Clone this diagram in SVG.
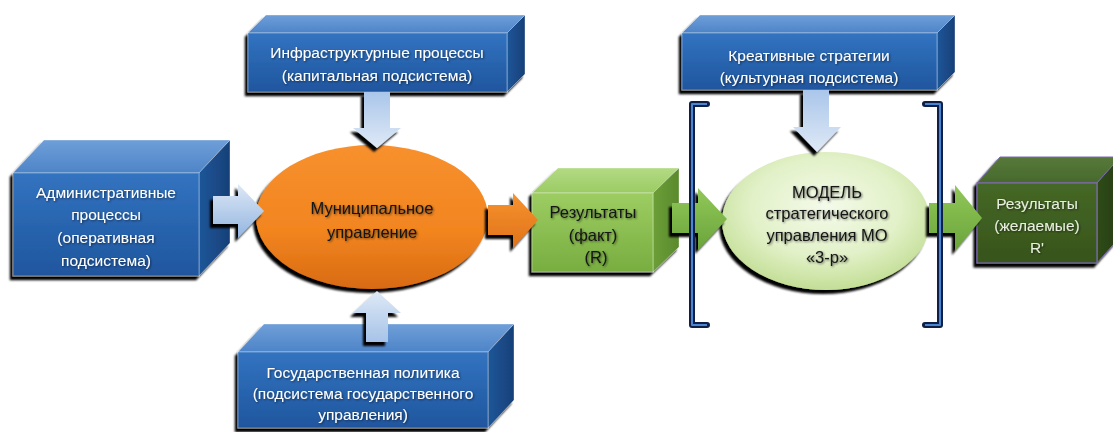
<svg xmlns="http://www.w3.org/2000/svg" width="1113" height="432" viewBox="0 0 1113 432">
<defs>
<linearGradient id="bF" x1="0" y1="0" x2="0" y2="1"><stop offset="0" stop-color="#3273c0"/><stop offset="1" stop-color="#1f569e"/></linearGradient>
<linearGradient id="bT" x1="0" y1="0" x2="0" y2="1"><stop offset="0" stop-color="#6f9fd8"/><stop offset="1" stop-color="#4d84c8"/></linearGradient>
<linearGradient id="bS" x1="0" y1="0" x2="1" y2="0"><stop offset="0" stop-color="#1f5699"/><stop offset="1" stop-color="#174078"/></linearGradient>
<linearGradient id="gF" x1="0" y1="0" x2="0" y2="1"><stop offset="0" stop-color="#9dcd62"/><stop offset="1" stop-color="#78ad40"/></linearGradient>
<linearGradient id="gT" x1="0" y1="0" x2="0" y2="1"><stop offset="0" stop-color="#b4da84"/><stop offset="1" stop-color="#9bcb63"/></linearGradient>
<linearGradient id="gS" x1="0" y1="0" x2="1" y2="0"><stop offset="0" stop-color="#6c9e38"/><stop offset="1" stop-color="#5a8a2c"/></linearGradient>
<linearGradient id="dF" x1="0" y1="0" x2="0" y2="1"><stop offset="0" stop-color="#456826"/><stop offset="1" stop-color="#37541c"/></linearGradient>
<linearGradient id="dT" x1="0" y1="0" x2="0" y2="1"><stop offset="0" stop-color="#56793a"/><stop offset="1" stop-color="#48692c"/></linearGradient>
<linearGradient id="dS" x1="0" y1="0" x2="1" y2="0"><stop offset="0" stop-color="#2f4a16"/><stop offset="1" stop-color="#263d11"/></linearGradient>
<linearGradient id="oE" x1="0" y1="0" x2="0" y2="1"><stop offset="0" stop-color="#f7902e"/><stop offset="0.6" stop-color="#f2851f"/><stop offset="1" stop-color="#d86a12"/></linearGradient>
<radialGradient id="mE" cx="0.5" cy="0.4" r="0.6"><stop offset="0" stop-color="#f4faea"/><stop offset="0.6" stop-color="#e2f1c8"/><stop offset="1" stop-color="#c3de96"/></radialGradient>
<linearGradient id="aH" x1="0" y1="0" x2="0" y2="1"><stop offset="0" stop-color="#dde8f6"/><stop offset="1" stop-color="#93b5e0"/></linearGradient>
<linearGradient id="aV" x1="0" y1="0" x2="0" y2="1"><stop offset="0" stop-color="#aac6ea"/><stop offset="1" stop-color="#dfe9f6"/></linearGradient>
<linearGradient id="aVu" x1="0" y1="0" x2="0" y2="1"><stop offset="0" stop-color="#dfe9f6"/><stop offset="1" stop-color="#a6c3e8"/></linearGradient>
<linearGradient id="aO" x1="0" y1="0" x2="0" y2="1"><stop offset="0" stop-color="#f7922e"/><stop offset="1" stop-color="#e0731a"/></linearGradient>
<linearGradient id="aG" x1="0" y1="0" x2="0" y2="1"><stop offset="0" stop-color="#92c85a"/><stop offset="1" stop-color="#6aa43a"/></linearGradient>
<filter id="sh" x="-20%" y="-20%" width="140%" height="140%"><feDropShadow dx="-3" dy="4" stdDeviation="1" flood-color="#000" flood-opacity="1"/></filter>
<filter id="ts" x="-10%" y="-30%" width="120%" height="160%"><feDropShadow dx="1" dy="1" stdDeviation="0.8" flood-color="#000" flood-opacity="0.55"/></filter>
</defs>
<style>
.t{font-family:"Liberation Sans Narrow","Liberation Sans",Arial,sans-serif;text-anchor:middle;filter:url(#ts)}
.w{fill:#ffffff;font-size:15.5px}
.k{fill:#141414;font-size:16.5px}
.e{stroke:#ffffff;stroke-opacity:0.35;stroke-width:1}
.br{fill:none;stroke:#0f1f45;stroke-width:6;stroke-linejoin:round;stroke-linecap:round}
.bi{fill:none;stroke:#4a86d0;stroke-width:2;stroke-linejoin:round}
.ar{filter:url(#sh)}
</style>
<rect width="1113" height="432" fill="#ffffff"/>

<g id="admin">
<g filter="url(#sh)">
<polygon points="13,173 44,140 230,140 199,173" fill="url(#bT)" class="e"/>
<polygon points="199,173 230,140 230,243 199,276" fill="url(#bS)" class="e"/>
<rect x="13" y="173" width="186" height="103" fill="url(#bF)" class="e"/>
</g>
<text class="t w" x="106" y="198">Административные</text>
<text class="t w" x="106" y="220">процессы</text>
<text class="t w" x="106" y="243">(оперативная</text>
<text class="t w" x="106" y="266">подсистема)</text>
</g>

<g id="infra">
<g filter="url(#sh)">
<polygon points="248,33 266,15 525,15 507,33" fill="url(#bT)" class="e"/>
<polygon points="507,33 525,15 525,74 507,92" fill="url(#bS)" class="e"/>
<rect x="248" y="33" width="259" height="59" fill="url(#bF)" class="e"/>
</g>
<text class="t w" x="377" y="58">Инфраструктурные  процессы</text>
<text class="t w" x="377" y="81">(капитальная  подсистема)</text>
</g>

<g id="gov">
<g filter="url(#sh)">
<polygon points="238,352 264,324 514,324 488,352" fill="url(#bT)" class="e"/>
<polygon points="488,352 514,324 514,400 488,428" fill="url(#bS)" class="e"/>
<rect x="238" y="352" width="250" height="76" fill="url(#bF)" class="e"/>
</g>
<text class="t w" x="363" y="378">Государственная  политика</text>
<text class="t w" x="363" y="399">(подсистема  государственного</text>
<text class="t w" x="363" y="420">управления)</text>
</g>

<g id="municipal">
<ellipse cx="372" cy="217" rx="116" ry="72" fill="url(#oE)" filter="url(#sh)"/>
<text class="t k" x="372" y="214">Муниципальное</text>
<text class="t k" x="372" y="238">управление</text>
</g>

<g id="fact">
<g filter="url(#sh)">
<polygon points="532,193 558,168 679,168 653,193" fill="url(#gT)" class="e"/>
<polygon points="653,193 679,168 679,247 653,272" fill="url(#gS)" class="e"/>
<rect x="532" y="193" width="121" height="79" fill="url(#gF)" class="e"/>
</g>
<text class="t k" x="593" y="218">Результаты</text>
<text class="t k" x="593" y="241">(факт)</text>
<text class="t k" x="596" y="263">(R)</text>
</g>

<g id="creative">
<g filter="url(#sh)">
<polygon points="682,33 700,15 955,15 937,33" fill="url(#bT)" class="e"/>
<polygon points="937,33 955,15 955,72 937,90" fill="url(#bS)" class="e"/>
<rect x="682" y="33" width="255" height="57" fill="url(#bF)" class="e"/>
</g>
<text class="t w" x="809" y="61">Креативные  стратегии</text>
<text class="t w" x="809" y="83">(культурная  подсистема)</text>
</g>

<g id="model">
<ellipse cx="826" cy="221" rx="104" ry="69" fill="url(#mE)" filter="url(#sh)"/>
<text class="t k" x="827" y="198">МОДЕЛЬ</text>
<text class="t k" x="827" y="219">стратегического</text>
<text class="t k" x="827" y="241">управления  МО</text>
<text class="t k" x="827" y="263">«3-р»</text>
</g>

<g id="desired">
<g filter="url(#sh)">
<polygon points="977,183 1000,157 1120,157 1097,183" fill="url(#dT)" stroke="#7c6ab0" stroke-width="1"/>
<polygon points="1097,183 1120,157 1120,237 1097,263" fill="url(#dS)" stroke="#7c6ab0" stroke-width="1"/>
<rect x="977" y="183" width="120" height="80" fill="url(#dF)" stroke="#7c6ab0" stroke-width="1.2"/>
</g>
<text class="t w" x="1037" y="209" style="fill:#e8eedd">Результаты</text>
<text class="t w" x="1037" y="231" style="fill:#e8eedd">(желаемые)</text>
<text class="t w" x="1037" y="253" style="fill:#e8eedd">R'</text>
</g>

<g id="connectors">
<polygon class="ar" points="364,92 390,92 390,128 401,128 377,148 353,128 364,128" fill="url(#aV)"/>
<polygon class="ar" points="366,342 388,342 388,313 401,313 377,291 353,313 366,313" fill="url(#aVu)"/>
<polygon class="ar" points="213,196 238,196 238,184 264,211 238,238 238,224 213,224" fill="url(#aH)"/>
<polygon class="ar" points="488,205 513,205 513,193 538,220 513,248 513,235 488,235" fill="url(#aO)"/>
<polygon class="ar" points="672,203 698,203 698,188 727,219 698,250 698,233 672,233" fill="url(#aG)"/>
<polygon class="ar" points="803,90 829,90 829,127 841,127 817,152 793,127 803,127" fill="url(#aV)"/>
<polygon class="ar" points="929,203 955,203 955,185 982,218 955,251 955,233 929,233" fill="url(#aG)"/>
</g>

<g id="brackets">
<path class="br" d="M707,104 L692,104 L692,325 L707,325"/>
<path class="bi" d="M707,104 L692,104 L692,325 L707,325"/>
<path class="br" d="M925,104 L940,104 L940,325 L925,325"/>
<path class="bi" d="M925,104 L940,104 L940,325 L925,325"/>
</g>
</svg>
